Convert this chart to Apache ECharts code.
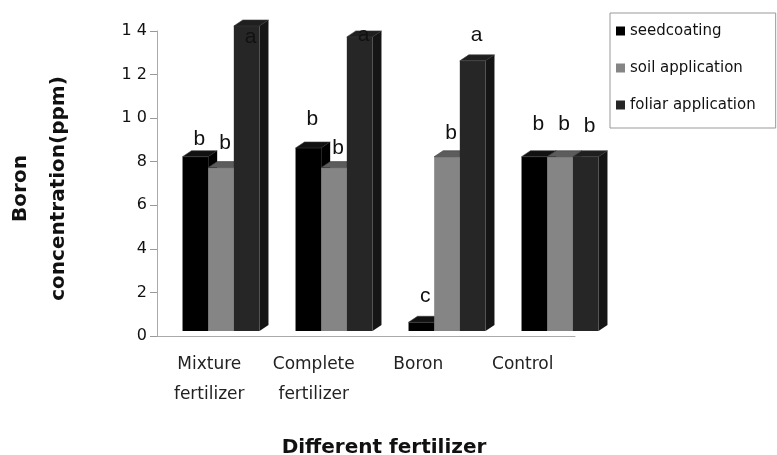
<!DOCTYPE html>
<html>
<head>
<meta charset="utf-8">
<script src="https://cdn.jsdelivr.net/npm/echarts@6/dist/echarts.min.js"></script>
<style>
  html, body { margin: 0; padding: 0; background: #fff; }
  #chart { width: 777px; height: 455px; }
</style>
</head>
<body>
<div id="chart"></div>
<script>
// data
var categories = ['Mixture\nfertilizer', 'Complete\nfertilizer', 'Boron', 'Control']
var seriesNames = ['seedcoating', 'soil application', 'foliar application']
var seedcoating = [8.0, 8.4, 0.4, 8.0]
var soilApplication = [7.5, 7.5, 8.0, 8.0]
var foliarApplication = [14.0, 13.5, 12.4, 8.0]
var yTickLabels = ['0', '2', '4', '6', '8', '1 0', '1 2', '1 4']

// significance letters and the height they sit at
var seedLetters = ['b', 'b', 'c', 'b']
var soilLetters = ['b', 'b', 'b', 'b']
var foliarLetters = ['a', 'a', 'a', 'b']
var seedLetterY = [8.8, 9.7, 1.6, 9.5]
var soilLetterY = [8.6, 8.4, 9.1, 9.5]
var foliarLetterY = [13.5, 13.6, 13.6, 9.4]

var allValues = [seedcoating, soilApplication, foliarApplication]
var allLetters = [seedLetters, soilLetters, foliarLetters]
var allLetterY = [seedLetterY, soilLetterY, foliarLetterY]

// front / top / side colours for the fake 3d bars
var palette = [
  { front: '#000000', top: '#111111', side: '#000000' },
  { front: '#858585', top: '#5c5c5c', side: '#6a6a6a' },
  { front: '#262626', top: '#1f1f1f', side: '#151515' }
]
var DX = 9, DY = 6

function barRender(idx) {
  return function (params, api) {
    var cat = api.value(0)
    var v = api.value(1)
    var base = api.coord([cat, 0])
    var top = api.coord([cat, v])
    var band = api.size([1, 0])[0]
    var w = band * 0.227
    var x0 = base[0] + (idx - 1.5) * w
    var ty = top[1], by = base[1]
    var c = palette[idx]
    return {
      type: 'group',
      children: [
        { type: 'rect', shape: { x: x0, y: ty, width: w, height: by - ty }, style: { fill: c.front } },
        { type: 'polygon', shape: { points: [[x0, ty], [x0 + DX, ty - DY], [x0 + w + DX, ty - DY], [x0 + w, ty]] },
          style: { fill: c.top, stroke: '#3a3a3a', lineWidth: 0.6 } },
        { type: 'polygon', shape: { points: [[x0 + w, ty], [x0 + w + DX, ty - DY], [x0 + w + DX, by - DY], [x0 + w, by]] },
          style: { fill: c.side } }
      ]
    }
  }
}

var barSeries = allValues.map(function (vals, s) {
  return {
    name: seriesNames[s],
    type: 'custom',
    xAxisIndex: 1,
    yAxisIndex: 1,
    itemStyle: { color: palette[s].front },
    renderItem: barRender(s),
    encode: { x: 0, y: 1 },
    data: vals.map(function (v, i) { return [i, v] }),
    z: 2 + s
  }
})

var letterData = []
allLetters.forEach(function (arr, s) {
  arr.forEach(function (t, i) { letterData.push([i, allLetterY[s][i], s, t]) })
})

var letterSeries = {
  type: 'custom',
  xAxisIndex: 1,
  yAxisIndex: 1,
  z: 10,
  silent: true,
  renderItem: function (params, api) {
    var cat = api.value(0)
    var p = api.coord([cat, api.value(1)])
    var band = api.size([1, 0])[0]
    var w = band * 0.227
    var s = api.value(2)
    var cx = p[0] + (s - 1) * w + 4
    return {
      type: 'text',
      style: {
        x: cx, y: p[1], text: letterData[params.dataIndex][3],
        fill: '#111', font: '21px "Liberation Sans", Arial, sans-serif',
        align: 'center', verticalAlign: 'middle'
      }
    }
  },
  encode: { x: 0, y: 1 },
  data: letterData
}

var chart = echarts.init(document.getElementById('chart'))
chart.setOption({
  backgroundColor: '#fff',
  animation: false,
  legend: {
    data: seriesNames,
    orient: 'vertical',
    left: 610,
    top: 13,
    padding: [10, 20, 15, 6],
    itemGap: 21,
    itemWidth: 9,
    itemHeight: 9,
    icon: 'rect',
    borderColor: '#999',
    borderWidth: 1,
    textStyle: { fontFamily: '"DejaVu Sans", sans-serif', fontSize: 15, color: '#111', lineHeight: 16 }
  },
  grid: [
    { left: 157, right: 202, top: 31, bottom: 119, outerBoundsMode: 'none' },
    { left: 164.5, right: 160.5, top: 26, bottom: 124, outerBoundsMode: 'none' }
  ],
  xAxis: [
    {
      type: 'category',
      gridIndex: 0,
      data: categories,
      axisLine: { lineStyle: { color: '#aaa' } },
      axisTick: { length: 6, lineStyle: { color: '#999' } },
      axisLabel: {
        interval: 0, margin: 14, lineHeight: 30, fontSize: 17, color: '#222',
        fontFamily: '"DejaVu Sans", sans-serif'
      },
      name: 'Different fertilizer',
      nameLocation: 'middle',
      nameGap: 102,
      nameTextStyle: {
        fontFamily: '"DejaVu Sans", sans-serif', fontWeight: 'bold', fontSize: 20, color: '#111',
        padding: [0, 0, 0, 36]
      }
    },
    { type: 'category', gridIndex: 1, data: categories, show: false }
  ],
  yAxis: [
    {
      type: 'value',
      gridIndex: 0,
      min: 0, max: 14, interval: 2,
      axisLine: { show: true, lineStyle: { color: '#aaa' } },
      axisTick: { show: true, length: 7, lineStyle: { color: '#999' } },
      splitLine: { show: false },
      axisLabel: {
        margin: 10, fontSize: 16, color: '#111',
        fontFamily: '"DejaVu Sans", sans-serif',
        formatter: function (v) { return yTickLabels[Math.round(v / 2)] }
      },
      name: 'Boron\nconcentration(ppm)',
      nameLocation: 'middle',
      nameRotate: 90,
      nameGap: 79,
      nameTextStyle: {
        fontFamily: '"DejaVu Sans", sans-serif', fontWeight: 'bold', fontSize: 20, color: '#111',
        lineHeight: 38, padding: [0, 10, 0, 0]
      }
    },
    { type: 'value', gridIndex: 1, min: 0, max: 14, show: false }
  ],
  series: barSeries.concat([letterSeries])
})
window.addEventListener('resize', function () { chart.resize() })
</script>
</body>
</html>
